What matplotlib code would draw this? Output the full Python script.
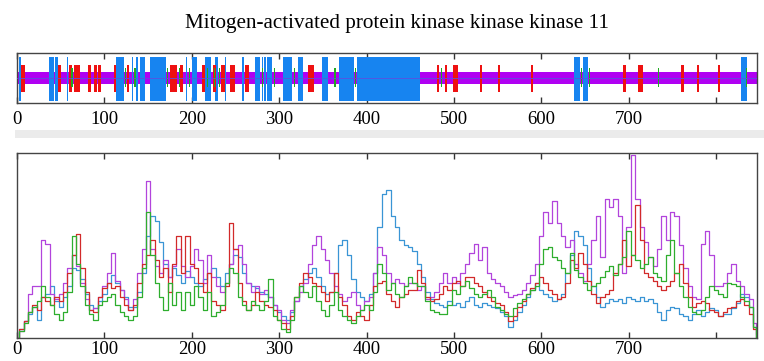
import matplotlib
matplotlib.use("Agg")
import matplotlib.pyplot as plt
import numpy as np
from matplotlib.patches import Rectangle

SEQ_LEN = 847
TITLE = "Mitogen-activated protein kinase kinase kinase 11"

# feature map along the sequence (start, end in residues)
blue_start = [2, 37, 43, 57, 113, 131.5, 136, 141, 152, 193.5, 200, 215, 227, 238,
              258, 272, 280, 283, 286, 304, 322, 349, 368, 389, 638, 647.5, 828.5]
blue_end = [4, 42, 47, 58, 122.5, 132.5, 139, 146, 170, 194.5, 206, 222, 230, 239,
            260, 278, 282, 285, 291.5, 314.5, 327, 356, 386, 461, 644.5, 654, 835]
red_start = [5, 47, 59.5, 65, 81.5, 88, 93, 111, 125.5, 175, 187, 212, 224, 234,
             244, 261, 333, 481, 490, 499, 530, 551, 588, 693, 710.5, 760, 778, 802]
red_end = [9, 50, 62.5, 72, 85, 91, 96, 113, 128, 183, 190, 215, 228, 238,
           250, 265, 340, 483, 492, 504.5, 532, 553, 590, 697, 716, 763, 781, 805]
green_pos = [63, 124, 135, 172, 186, 197, 218, 226, 232, 281, 295, 318, 364, 387,
             486, 646, 655, 734, 835]

# profile curves, sampled every 5 residues (last point at 847)
residue = list(range(0, 846, 5)) + [847]
purple = [0, 4, 9, 24, 28, 28, 53, 51, 24, 21, 24, 30, 38, 45, 39, 30, 21, 15, 16, 22,
          28, 35, 46, 31, 26, 21, 15, 21, 35, 48, 85, 48, 39, 35, 42, 33, 39, 48, 39, 33,
          39, 48, 42, 30, 45, 33, 28, 25, 30, 40, 48, 50, 40, 30, 25, 28, 24, 26, 22, 18,
          15, 10, 8, 15, 20, 25, 30, 40, 50, 55, 48, 42, 35, 28, 24, 20, 22, 25, 18, 15,
          20, 22, 35, 49, 45, 35, 30, 32, 30, 28, 30, 30, 26, 28, 21, 22, 25, 30, 35, 30,
          33, 30, 35, 40, 46, 51, 42, 49, 35, 32, 30, 28, 25, 22, 23, 24, 26, 30, 34, 40,
          55, 68, 62, 74, 62, 55, 49, 53, 40, 35, 31, 40, 53, 66, 44, 75, 71, 75, 66, 35,
          60, 99, 75, 60, 52, 44, 39, 48, 66, 53, 68, 66, 50, 38, 28, 22, 21, 51, 58, 45,
          28, 28, 30, 35, 40, 31, 28, 24, 21, 8, 2]
blue = [0, 5, 9, 13, 17, 10, 22, 24, 28, 20, 17, 22, 28, 38, 37, 32, 24, 18, 16, 20,
        24, 30, 34, 30, 26, 22, 17, 17, 25, 35, 55, 66, 63, 52, 40, 33, 38, 34, 30, 36,
        33, 30, 28, 32, 35, 38, 33, 28, 35, 40, 45, 44, 35, 30, 28, 27, 25, 24, 22, 18,
        14, 12, 10, 14, 20, 28, 32, 35, 38, 33, 28, 24, 25, 35, 50, 53, 45, 32, 25, 22,
        20, 24, 35, 60, 78, 80, 66, 60, 53, 50, 49, 47, 40, 33, 25, 21, 19, 18, 17, 20,
        18, 19, 17, 20, 22, 18, 17, 19, 18, 17, 16, 14, 12, 6, 10, 14, 18, 22, 26, 30,
        26, 24, 22, 20, 21, 24, 35, 45, 58, 55, 50, 38, 28, 22, 17, 19, 21, 20, 21, 19,
        22, 21, 20, 22, 20, 21, 19, 14, 10, 15, 17, 16, 13, 12, 10, 13, 15, 12, 14, 16,
        15, 12, 13, 13, 16, 19, 24, 22, 17, 6, 0]
red = [0, 5, 9, 14, 18, 15, 22, 20, 18, 22, 20, 25, 35, 45, 56, 38, 25, 15, 14, 22,
       27, 30, 27, 28, 22, 18, 15, 18, 30, 40, 45, 53, 42, 33, 38, 25, 40, 55, 35, 55,
       40, 38, 30, 25, 35, 20, 18, 15, 28, 62, 48, 30, 20, 15, 18, 25, 20, 18, 17, 15,
       10, 8, 5, 12, 22, 30, 35, 33, 30, 28, 25, 20, 25, 35, 22, 18, 12, 10, 14, 12,
       10, 18, 28, 30, 31, 24, 20, 17, 22, 24, 26, 26, 37, 30, 22, 20, 21, 24, 28, 26,
       30, 31, 28, 33, 33, 30, 28, 25, 22, 20, 19, 18, 14, 9, 12, 17, 20, 24, 27, 30,
       33, 30, 26, 24, 21, 22, 30, 42, 38, 46, 40, 31, 24, 19, 22, 24, 26, 35, 40, 53,
       39, 45, 72, 53, 35, 33, 31, 28, 26, 28, 31, 35, 40, 30, 22, 17, 19, 20, 19, 15,
       14, 12, 14, 16, 17, 20, 21, 18, 13, 5, 0]
green = [0, 4, 8, 14, 17, 20, 28, 22, 18, 13, 10, 14, 25, 55, 40, 28, 18, 13, 10, 18,
         20, 22, 24, 18, 14, 12, 10, 12, 22, 38, 68, 45, 30, 22, 15, 30, 18, 25, 15, 25,
         18, 28, 22, 15, 25, 12, 14, 18, 30, 38, 35, 22, 18, 15, 20, 18, 15, 20, 32, 12,
         10, 5, 3, 10, 22, 28, 25, 22, 28, 20, 15, 12, 18, 25, 15, 12, 10, 8, 12, 15,
         18, 15, 25, 40, 35, 26, 30, 24, 22, 28, 33, 30, 28, 28, 20, 15, 14, 13, 13, 18,
         26, 24, 28, 31, 27, 24, 22, 24, 26, 22, 17, 15, 13, 12, 16, 19, 21, 24, 26, 28,
         40, 48, 49, 44, 42, 38, 35, 46, 37, 33, 30, 26, 28, 30, 33, 36, 39, 34, 40, 44,
         58, 45, 42, 38, 40, 44, 35, 33, 31, 45, 53, 35, 28, 22, 17, 14, 13, 15, 22, 28,
         26, 24, 22, 30, 29, 28, 22, 20, 17, 6, 0]

tick_pos = list(range(0, 801, 100))
tick_text = [str(t) for t in range(0, 701, 100)] + [""]

plt.rcParams["font.family"] = ["Liberation Serif", "DejaVu Serif"]

fig = plt.figure(figsize=(7.64, 3.61), dpi=100)
fig.text(0.52, 0.935, TITLE, ha="center", va="center", fontsize=15.2)

# light grey separator between the two panels
fig.patches.append(Rectangle((0.0196, 0.618), 1.0, 0.022, transform=fig.transFigure,
                             facecolor="#ebebeb", edgecolor="none", zorder=0))

ax1 = fig.add_axes([0.0223, 0.7147, 0.9686, 0.1385])
ax2 = fig.add_axes([0.0223, 0.0637, 0.9686, 0.5125])

# domain map
ax1.bar(0, 0.24, width=SEQ_LEN, bottom=0.38, align="edge", color="#b000f2", zorder=1)
ax1.bar(blue_start, 0.88, width=np.subtract(blue_end, blue_start), bottom=0.046,
        align="edge", color="#1784f0", linewidth=0, zorder=2)
ax1.bar(red_start, 0.534, width=np.subtract(red_end, red_start), bottom=0.226,
        align="edge", color="#ee1111", linewidth=0, zorder=3)
ax1.bar(green_pos, 0.367, width=1.4, bottom=0.326, color="#22aa22", linewidth=0, zorder=4)
ax1.plot([0, SEQ_LEN], [0.5, 0.5], color="#5a50e0", lw=0.6, zorder=5)
ax1.set_ylim(0, 1)

# profiles
for vals, col in [(blue, "#3a95d5"), (purple, "#b244dc"), (red, "#d22a2a"), (green, "#2eae2e")]:
    ax2.plot(residue, vals, color=col, lw=0.9, drawstyle="steps-mid")
ax2.set_ylim(0, 100)

for ax, pad in ((ax1, 6), (ax2, 2)):
    ax.set_xlim(0, SEQ_LEN)
    ax.set_xticks(tick_pos)
    ax.set_xticklabels(tick_text)
    ax.set_yticks([])
    ax.tick_params(axis="x", direction="in", top=True, length=4, width=1,
                   color="#333333", labelsize=13.5, pad=pad)
    for s in ax.spines.values():
        s.set_color("#444444")
        s.set_linewidth(1.0)

fig.savefig("out.png", dpi=100)
